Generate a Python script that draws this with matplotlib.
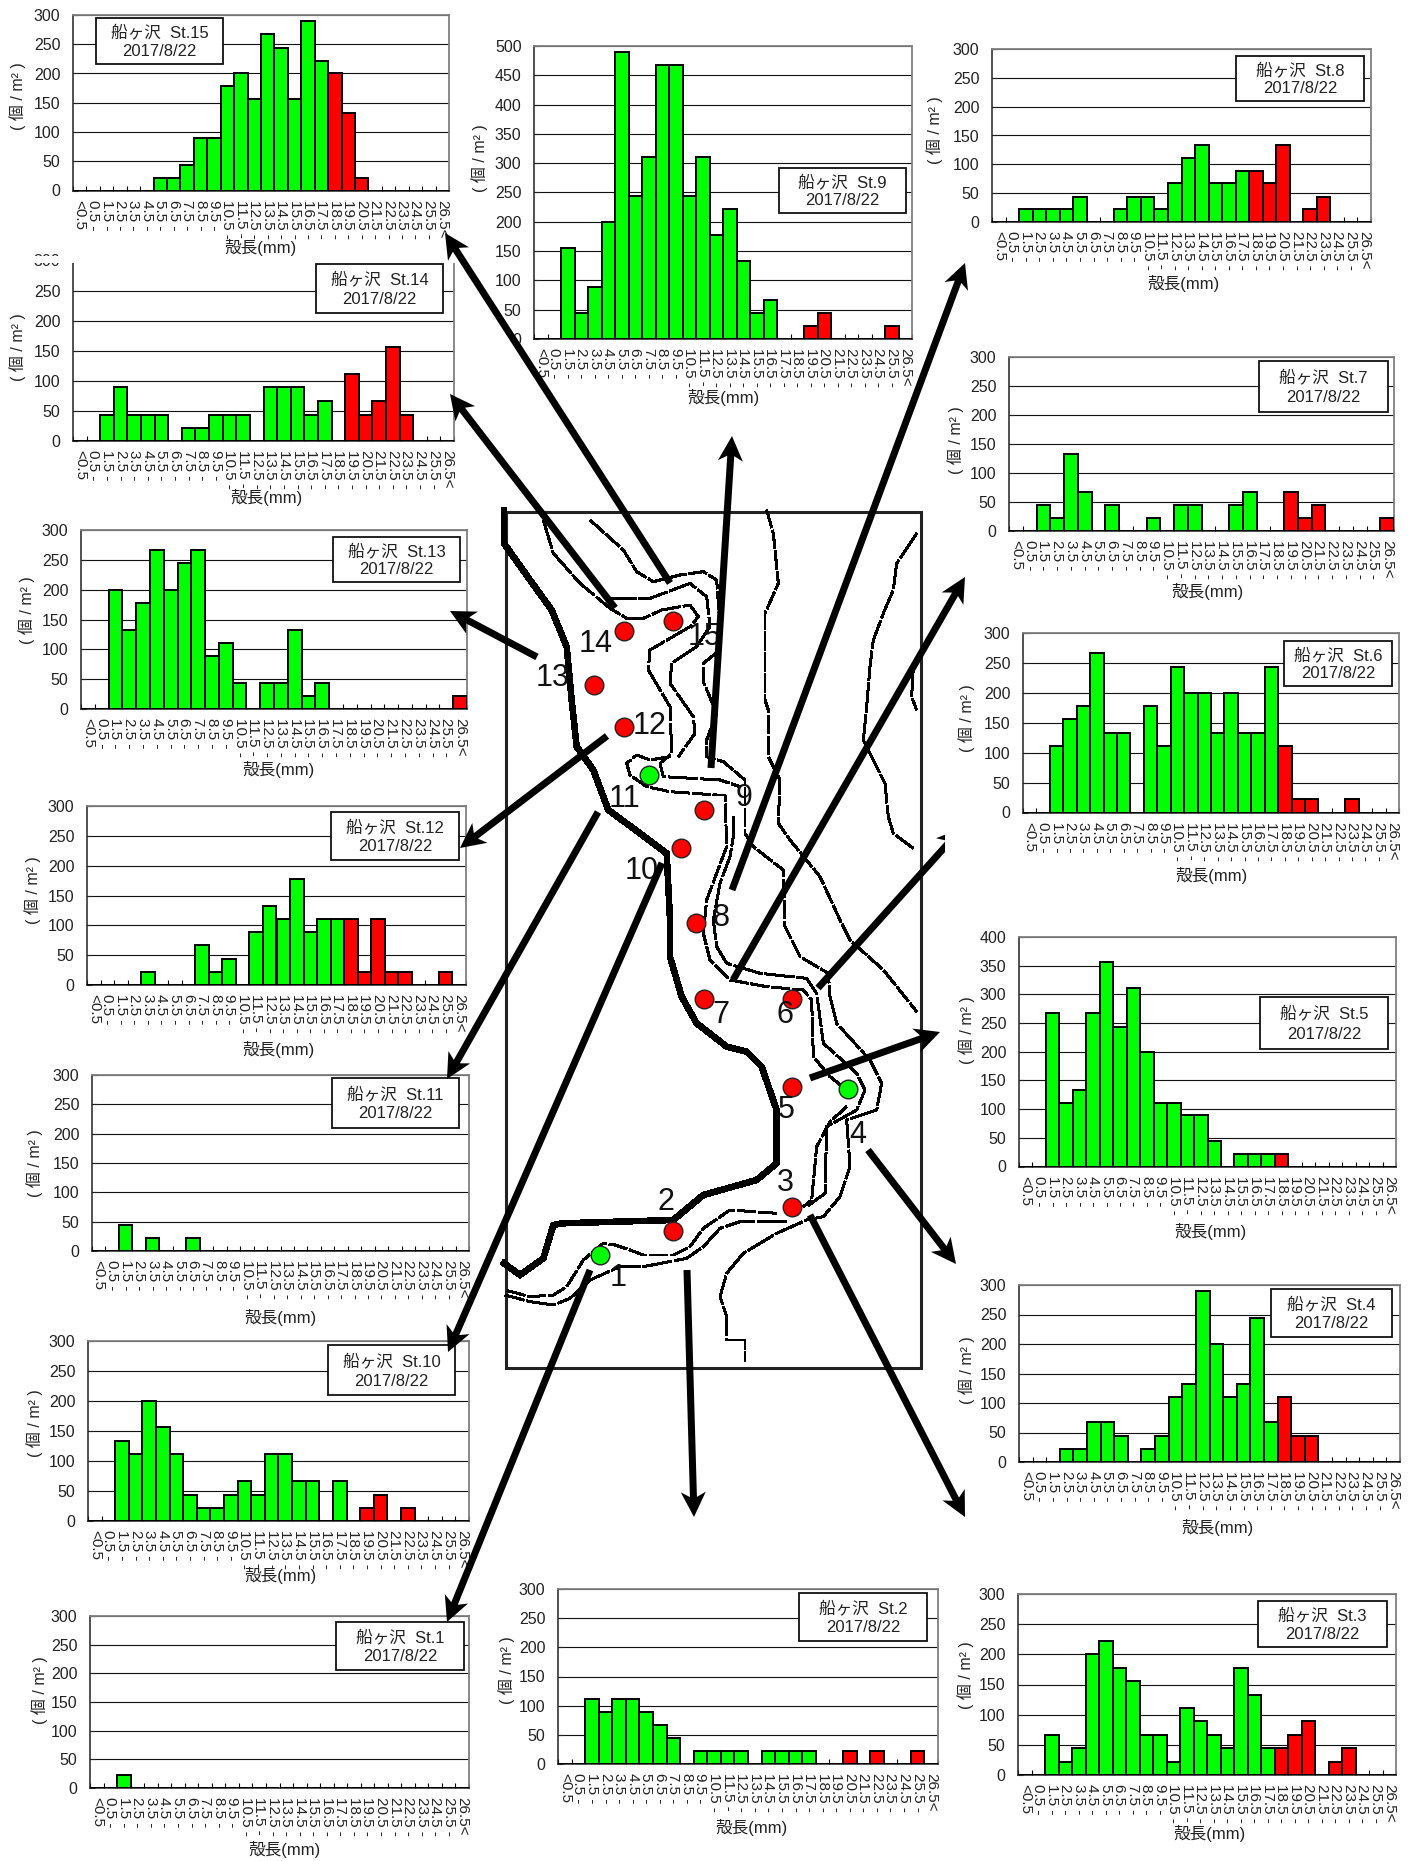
import numpy as np
from matplotlib import pyplot as plt
from matplotlib.patches import Rectangle

W, H = 1415, 1861
plt.rcParams['font.family'] = ['Liberation Sans', 'Noto Sans CJK JP', 'DejaVu Sans']

# size classes along the x axis
size_labels = ['<0.5'] + [f'{k}.5 -' for k in range(0, 26)] + ['26.5<']

# density per station (ind/m2), one value per size class
st1 = [0, 0, 22, 0, 0, 0, 0, 0, 0, 0, 0, 0, 0, 0, 0, 0, 0, 0, 0, 0, 0, 0, 0, 0, 0, 0, 0, 0]
st2 = [0, 0, 111, 89, 111, 111, 89, 67, 44, 0, 22, 22, 22, 22, 0, 22, 22, 22, 22, 0, 0, 22, 0, 22, 0, 0, 22, 0]
st3 = [0, 0, 67, 22, 44, 200, 222, 178, 156, 67, 67, 22, 111, 89, 67, 44, 178, 133, 44, 44, 67, 89, 0, 22, 44, 0, 0, 0]
st4 = [0, 0, 0, 22, 22, 67, 67, 44, 0, 22, 44, 111, 133, 289, 200, 111, 133, 244, 67, 111, 44, 44, 0, 0, 0, 0, 0, 0]
st5 = [0, 0, 267, 111, 133, 267, 356, 244, 311, 200, 111, 111, 89, 89, 44, 0, 22, 22, 22, 22, 0, 0, 0, 0, 0, 0, 0, 0]
st6 = [0, 0, 111, 156, 178, 267, 133, 133, 0, 178, 111, 244, 200, 200, 133, 200, 133, 133, 244, 111, 22, 22, 0, 0, 22, 0, 0, 0]
st7 = [0, 0, 44, 22, 133, 67, 0, 44, 0, 0, 22, 0, 44, 44, 0, 0, 44, 67, 0, 0, 67, 22, 44, 0, 0, 0, 0, 22]
st8 = [0, 0, 22, 22, 22, 22, 44, 0, 0, 22, 44, 44, 22, 67, 111, 133, 67, 67, 89, 89, 67, 133, 0, 22, 44, 0, 0, 0]
st9 = [0, 0, 156, 44, 89, 200, 489, 244, 311, 467, 467, 244, 311, 178, 222, 133, 44, 67, 0, 0, 22, 44, 0, 0, 0, 0, 22, 0]
st10 = [0, 0, 133, 111, 200, 156, 111, 44, 22, 22, 44, 67, 44, 111, 111, 67, 67, 0, 67, 0, 22, 44, 0, 22, 0, 0, 0, 0]
st11 = [0, 0, 44, 0, 22, 0, 0, 22, 0, 0, 0, 0, 0, 0, 0, 0, 0, 0, 0, 0, 0, 0, 0, 0, 0, 0, 0, 0]
st12 = [0, 0, 0, 0, 22, 0, 0, 0, 67, 22, 44, 0, 89, 133, 111, 178, 89, 111, 111, 111, 22, 111, 22, 22, 0, 0, 22, 0]
st13 = [0, 0, 200, 133, 178, 267, 200, 244, 267, 89, 111, 44, 0, 44, 44, 133, 22, 44, 0, 0, 0, 0, 0, 0, 0, 0, 0, 22]
st14 = [0, 0, 44, 89, 44, 44, 44, 0, 22, 22, 44, 44, 44, 0, 89, 89, 89, 44, 67, 0, 111, 44, 67, 156, 44, 0, 0, 0]
st15 = [0, 0, 0, 0, 0, 0, 22, 22, 44, 89, 89, 178, 200, 156, 267, 244, 156, 289, 222, 200, 133, 22, 0, 0, 0, 0, 0, 0]

# name, values, y max, axes box (l, r, t, b), label box (l, r, t, b), y label (x, y), x label (x, y)
panels = [
    ('St.14', st14, 300, (73, 454, 260.5, 441), (316, 443, 264, 313), (18, 347), (266, 498)),
    ('St.15', st15, 300, (73, 449, 15, 190.5), (96, 223, 18, 64), (18, 96), (260, 248)),
    ('St.9', st9, 500, (534, 912, 46, 339), (779, 906, 168, 213), (480, 158), (723, 397)),
    ('St.8', st8, 300, (992, 1371, 49, 222), (1236, 1364, 56, 101), (935, 130), (1183, 284)),
    ('St.7', st7, 300, (1009, 1394, 357, 531), (1259, 1388, 361, 412), (956, 440), (1207, 592)),
    ('St.6', st6, 300, (1023, 1399, 633, 812.5), (1284, 1392, 641, 686), (967, 718), (1211, 875)),
    ('St.5', st5, 400, (1019, 1396, 937, 1166.5), (1260, 1388, 997, 1049), (967, 1030), (1210, 1231)),
    ('St.4', st4, 300, (1019, 1400, 1285, 1462), (1271, 1392, 1289, 1337), (967, 1370), (1217, 1527)),
    ('St.3', st3, 300, (1018, 1396, 1594, 1775), (1258, 1387, 1601, 1647), (966, 1675), (1209, 1834)),
    ('St.2', st2, 300, (558, 938, 1589, 1764), (799, 927, 1593, 1641), (507, 1670), (751, 1828)),
    ('St.13', st13, 300, (81, 467, 530, 709), (333, 460, 537, 582), (27, 610), (278, 769)),
    ('St.12', st12, 300, (87, 466, 806, 985), (331, 459, 812, 860), (33, 890), (278, 1050)),
    ('St.11', st11, 300, (92, 469, 1075, 1251), (332, 459, 1078, 1128), (35, 1163), (280, 1318)),
    ('St.10', st10, 300, (88, 469, 1341, 1521), (328, 455, 1345, 1395), (35, 1423), (280, 1576)),
    ('St.1', st1, 300, (90, 469, 1616, 1788), (336, 464, 1622, 1670), (40, 1690), (284, 1850)),
]

# map tracing, in crop units of the map region (x/3 + 490, y/3 + 500)
bank = [(42, 30), (42, 130), (120, 240), (185, 330), (230, 440), (245, 600), (260, 740), (310, 810),
        (355, 930), (450, 1000), (530, 1060), (540, 1260), (540, 1370), (575, 1490), (620, 1570),
        (710, 1640), (770, 1655), (815, 1700), (860, 1830), (860, 1990), (800, 2040), (640, 2085),
        (550, 2160), (215, 2170), (190, 2175), (160, 2275), (90, 2325), (42, 2290)]
creeks = [
    [(160, 60), (190, 160), (270, 250), (360, 325), (410, 355), (460, 355), (515, 330), (600, 315), (625, 350),
     (600, 380), (480, 450), (475, 510), (540, 620), (545, 760), (510, 790), (520, 830), (690, 840), (750, 860)],
    [(300, 60), (400, 150), (440, 215), (490, 245), (570, 225), (640, 215), (680, 240), (690, 380), (690, 450),
     (640, 490), (640, 545), (680, 640), (650, 720), (650, 770), (700, 785), (765, 840), (765, 1000)],
    [(350, 295), (480, 295), (600, 250), (650, 290), (660, 380), (620, 440), (545, 490), (540, 550), (610, 650),
     (615, 700), (565, 770)],
    [(540, 770), (480, 780), (440, 765), (410, 790), (420, 825), (470, 860), (540, 875), (680, 885), (705, 885),
     (710, 1040), (680, 1120), (650, 1200), (640, 1300), (660, 1380), (720, 1440), (830, 1460), (940, 1470),
     (965, 1500), (970, 1670), (1020, 1730), (1070, 1770)],
    [(730, 950), (730, 1010), (720, 1070), (690, 1150), (670, 1260), (680, 1340), (710, 1390), (810, 1420),
     (950, 1435), (980, 1480), (1000, 1630), (1100, 1720), (1125, 1770), (1100, 1830), (1010, 1880), (1005, 2080),
     (950, 2120)],
    [(1070, 1820), (1020, 1865), (980, 1940), (965, 2100), (940, 2120)],
    [(1020, 1490), (1040, 1570), (1140, 1680), (1175, 1750), (1160, 1830), (1070, 1860), (1080, 2000), (1050, 2090),
     (1000, 2150), (950, 2160), (860, 2200), (760, 2260), (710, 2320), (690, 2390), (710, 2450), (710, 2520),
     (765, 2520), (765, 2585)],
    [(860, 2140), (720, 2130), (640, 2185), (600, 2240), (550, 2265), (460, 2265), (420, 2250), (375, 2235),
     (340, 2230), (280, 2280), (230, 2360), (190, 2385), (120, 2390), (45, 2370)],
    [(890, 2165), (750, 2165), (690, 2185), (640, 2240), (590, 2275), (460, 2300), (390, 2300), (300, 2340),
     (240, 2395), (190, 2415), (120, 2405), (45, 2385)],
    [(830, 30), (850, 100), (865, 250), (825, 340), (825, 600), (835, 630), (835, 770), (870, 840), (865, 970),
     (900, 1020), (990, 1130), (1050, 1260), (1080, 1320), (1180, 1410), (1280, 1535)],
    [(1280, 100), (1220, 190), (1210, 270), (1180, 340), (1150, 420), (1140, 500), (1130, 620), (1120, 720),
     (1185, 850), (1195, 950), (1210, 1000), (1270, 1045)],
    [(765, 1000), (790, 1040), (880, 1110), (885, 1280), (930, 1370), (1015, 1420), (1020, 1490)],
    [(1270, 500), (1265, 590), (1280, 630)],
]
red_dots = [(403, 393), (548, 362), (313, 555), (403, 680), (642, 930), (574, 1043), (619, 1270), (641, 1496),
            (907, 1496), (907, 1761), (907, 2121), (548, 2194)]
green_dots = [(476, 825), (1073, 1768), (331, 2266)]
site_numbers = [('14', 318, 433), ('13', 188, 535), ('15', 645, 410), ('12', 478, 678), ('11', 403, 897),
                ('9', 762, 895), ('10', 455, 1112), ('8', 693, 1255), ('7', 693, 1545), ('6', 885, 1545),
                ('5', 888, 1830), ('4', 1102, 1905), ('3', 885, 2048), ('2', 527, 2105), ('1', 383, 2335)]

# arrows from the map to each panel, in image pixels: tail, tip
arrows = [
    ((670, 583), (445, 233)), ((615, 608), (450, 394)), ((537, 657), (450, 611)), ((607, 736), (460, 848)),
    ((598, 812), (447, 1079)), ((662, 863), (448, 1352)), ((590, 1270), (447, 1622)), ((687, 1270), (694, 1517)),
    ((810, 1215), (965, 1517)), ((868, 1150), (956, 1264)), ((810, 1078), (940, 1032)), ((711, 768), (732, 436)),
    ((732, 890), (965, 263)), ((733, 980), (965, 577)),
]
cut_arrow = ((818, 988), (962, 828))


def to_px(pts):
    pts = np.array(pts, dtype=float)
    return pts[:, 0] / 3 + 490, pts[:, 1] / 3 + 500


def draw_panel(fig, name, values, ymax, box, label_box, ylabel_pos, xlabel_pos, overlay):
    l, r, t, b = box
    ax = fig.add_axes([l / W, 1 - b / H, (r - l) / W, (b - t) / H], zorder=1)
    xs = np.arange(len(values)) + 0.5
    colors = ['#00ff00' if i < 19 else '#ff0000' for i in range(len(values))]
    ax.bar(xs, values, width=1.0, color=colors, edgecolor='black', linewidth=1.4, zorder=3)
    ax.set_xlim(0, 28)
    ax.set_ylim(0, ymax)
    ax.set_yticks(np.arange(0, ymax + 1, 50))
    ax.tick_params(axis='y', direction='in', length=3.5, width=0.8, pad=9, labelsize=11.5, colors='#222222')
    ax.set_xticks(np.arange(0, 29))
    ax.set_xticklabels([])
    ax.tick_params(axis='x', which='major', direction='in', length=3.5, width=0.8)
    ax.set_xticks(xs, minor=True)
    ax.set_xticklabels(size_labels, minor=True, rotation=-90, fontsize=11, color='#222222',
                       ha='center', va='top')
    ax.tick_params(axis='x', which='minor', length=0, pad=6.5)
    ax.grid(True, axis='y', color='#111111', linewidth=0.8, zorder=1)
    for side in ['top', 'right']:
        ax.spines[side].set_color('#808080')
        ax.spines[side].set_linewidth(1.3)
    for side in ['left', 'bottom']:
        ax.spines[side].set_color('#222222')
        ax.spines[side].set_linewidth(1.1)

    overlay.text(xlabel_pos[0], xlabel_pos[1], '殻長(mm)', fontsize=12, color='#222222', ha='center', va='center')
    overlay.text(ylabel_pos[0], ylabel_pos[1], '( 個 / m² )', fontsize=11.5, color='#222222',
                 rotation=90, ha='center', va='center')

    bl, br, bt, bb = label_box
    overlay.add_patch(Rectangle((bl, bt), br - bl, bb - bt, facecolor='white', edgecolor='#111111',
                                linewidth=1.3, zorder=2))
    overlay.text((bl + br) / 2, bt + (bb - bt) * 0.32, f'船ヶ沢  {name}', fontsize=12, color='#222222',
                 ha='center', va='center', zorder=3)
    overlay.text((bl + br) / 2, bt + (bb - bt) * 0.72, '2017/8/22', fontsize=12, color='#222222',
                 ha='center', va='center', zorder=3)


def draw_map(ov):
    ov.add_patch(Rectangle((506, 512), 415, 856, fill=False, edgecolor='#222222', linewidth=2.2, zorder=4))
    x, y = to_px(bank)
    ov.plot(x, y, color='black', linewidth=4.0, solid_joinstyle='miter', antialiased=False, zorder=5)
    for i, line in enumerate(creeks):
        x, y = to_px(line)
        ls = (0, (9, 1.2)) if i % 2 else (0, (14, 1))
        ov.plot(x, y, color='black', linewidth=1.5, linestyle=ls, antialiased=False, zorder=5)
    for dots, color in [(red_dots, '#ff0000'), (green_dots, '#00ff00')]:
        x, y = to_px(dots)
        ov.scatter(x, y, s=180, c=color, edgecolors='#222222', linewidths=1.0, zorder=7)
    for label, zx, zy in site_numbers:
        ov.text(zx / 3 + 490, zy / 3 + 500, label, fontsize=22, ha='center', va='center', color='#111111',
                family=['Liberation Sans Narrow', 'Liberation Sans'], zorder=8)


def draw_arrows(ov):
    for (x0, y0), (x1, y1) in arrows + [cut_arrow]:
        arr = ov.arrow(x0, y0, x1 - x0, y1 - y0, width=7, head_width=25, head_length=25, overhang=0.2,
                       length_includes_head=True, facecolor='black', edgecolor='none', zorder=9)
        if ((x0, y0), (x1, y1)) == cut_arrow:
            arr.set_clip_path(Rectangle((0, 0), 945, H, transform=ov.transData))


fig = plt.figure(figsize=(W / 100, H / 100), dpi=100, facecolor='white')
ov = fig.add_axes([0, 0, 1, 1], zorder=5)
ov.set_xlim(0, W)
ov.set_ylim(H, 0)
ov.axis('off')
ov.patch.set_alpha(0)

for name, values, ymax, box, label_box, ylabel_pos, xlabel_pos in panels:
    draw_panel(fig, name, values, ymax, box, label_box, ylabel_pos, xlabel_pos, ov)

# top of the St.14 chart is cut off by the picture above it
ov.add_patch(Rectangle((0, 256), 458, 7, facecolor='white', edgecolor='none', zorder=1))

draw_map(ov)
draw_arrows(ov)

fig.savefig('out.png', dpi=100)
